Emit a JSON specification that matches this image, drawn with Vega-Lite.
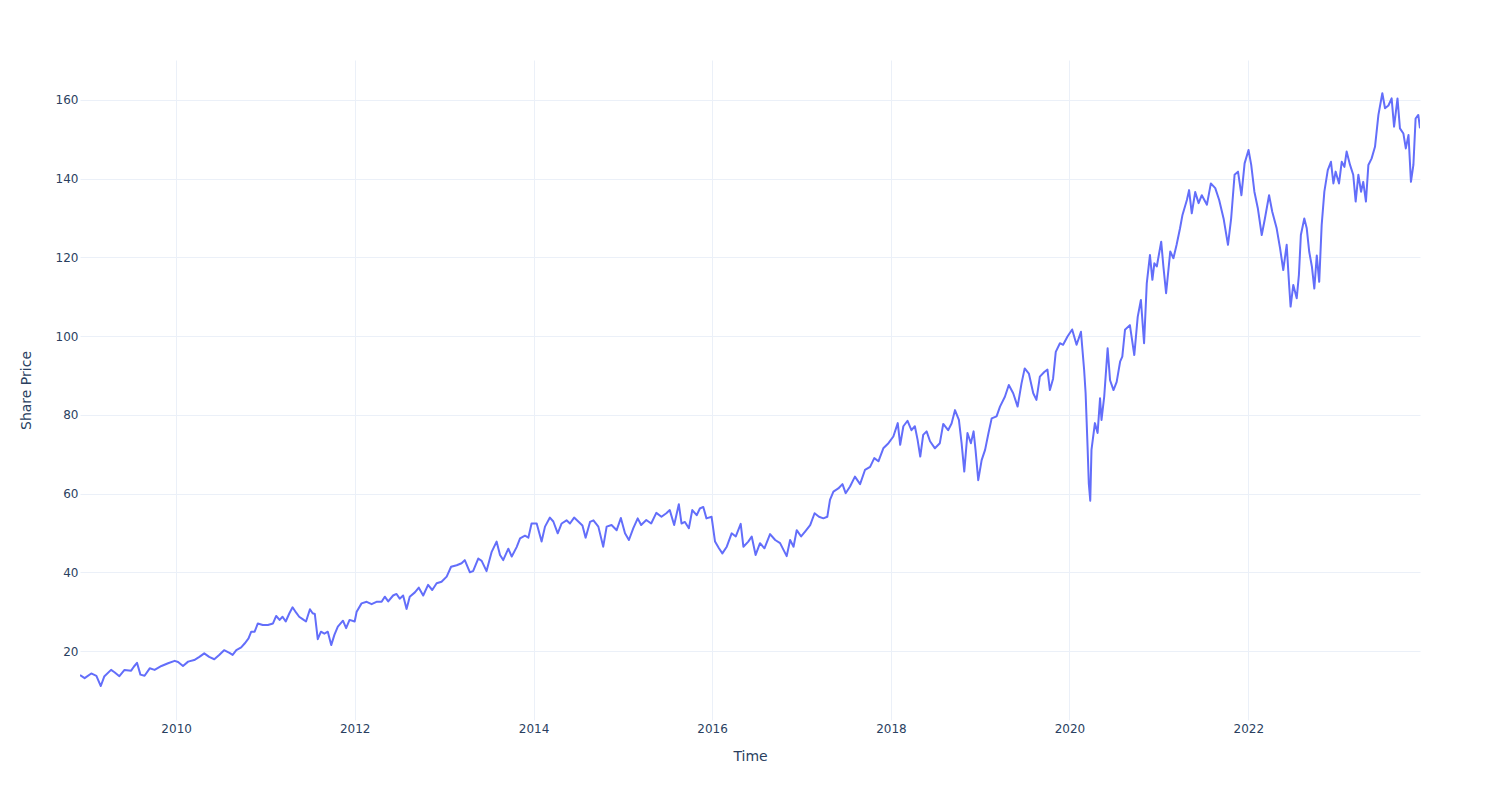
{
  "$schema": "https://vega.github.io/schema/vega-lite/v6.json",
  "width": 1340,
  "height": 660,
  "autosize": {"type": "none"},
  "padding": {"left": 80, "top": 60, "right": 80, "bottom": 80},
  "background": "white",
  "config": {"view": {"stroke": null}, "font": "DejaVu Sans"},
  "data": {"values": [
    {"date": "2008-12-04", "price": 13.9}, {"date": "2008-12-23", "price": 13.1}, {"date": "2009-01-19", "price": 14.3}, {"date": "2009-02-09", "price": 13.7}, {"date": "2009-02-27", "price": 11.1}, {"date": "2009-03-13", "price": 13.5}, {"date": "2009-04-10", "price": 15.2}, {"date": "2009-04-24", "price": 14.6}, {"date": "2009-05-14", "price": 13.6}, {"date": "2009-06-04", "price": 15.2}, {"date": "2009-07-01", "price": 15.0}, {"date": "2009-07-12", "price": 16.0}, {"date": "2009-07-25", "price": 17.0}, {"date": "2009-08-08", "price": 14.0}, {"date": "2009-08-25", "price": 13.7}, {"date": "2009-09-15", "price": 15.6}, {"date": "2009-10-05", "price": 15.2}, {"date": "2009-11-02", "price": 16.2}, {"date": "2009-11-29", "price": 16.9}, {"date": "2009-12-26", "price": 17.5},
    {"date": "2010-01-09", "price": 17.2}, {"date": "2010-01-29", "price": 16.2}, {"date": "2010-02-19", "price": 17.3}, {"date": "2010-03-16", "price": 17.7}, {"date": "2010-04-06", "price": 18.5}, {"date": "2010-04-26", "price": 19.4}, {"date": "2010-05-16", "price": 18.5}, {"date": "2010-06-06", "price": 17.9}, {"date": "2010-06-26", "price": 19.0}, {"date": "2010-07-16", "price": 20.2}, {"date": "2010-08-07", "price": 19.5}, {"date": "2010-08-20", "price": 19.0}, {"date": "2010-09-04", "price": 20.2}, {"date": "2010-09-24", "price": 20.9}, {"date": "2010-10-08", "price": 21.9}, {"date": "2010-10-24", "price": 23.2}, {"date": "2010-11-04", "price": 24.9}, {"date": "2010-11-18", "price": 24.9}, {"date": "2010-12-01", "price": 27.0}, {"date": "2010-12-21", "price": 26.6},
    {"date": "2011-01-11", "price": 26.6}, {"date": "2011-02-01", "price": 27.0}, {"date": "2011-02-14", "price": 28.9}, {"date": "2011-02-28", "price": 27.9}, {"date": "2011-03-12", "price": 28.7}, {"date": "2011-03-25", "price": 27.5}, {"date": "2011-04-09", "price": 29.6}, {"date": "2011-04-22", "price": 31.1}, {"date": "2011-05-06", "price": 29.8}, {"date": "2011-05-19", "price": 28.7}, {"date": "2011-06-02", "price": 28.1}, {"date": "2011-06-16", "price": 27.5}, {"date": "2011-07-02", "price": 30.6}, {"date": "2011-07-13", "price": 29.6}, {"date": "2011-07-22", "price": 29.4}, {"date": "2011-08-03", "price": 23.0}, {"date": "2011-08-16", "price": 24.9}, {"date": "2011-08-30", "price": 24.4}, {"date": "2011-09-13", "price": 24.9}, {"date": "2011-09-27", "price": 21.5}, {"date": "2011-10-10", "price": 24.1}, {"date": "2011-10-24", "price": 26.2}, {"date": "2011-11-14", "price": 27.7}, {"date": "2011-11-27", "price": 25.8}, {"date": "2011-12-11", "price": 27.9}, {"date": "2012-01-01", "price": 27.5},
    {"date": "2012-01-09", "price": 30.0}, {"date": "2012-01-29", "price": 32.1}, {"date": "2012-02-19", "price": 32.5}, {"date": "2012-03-10", "price": 31.9}, {"date": "2012-03-30", "price": 32.5}, {"date": "2012-04-20", "price": 32.5}, {"date": "2012-05-03", "price": 33.8}, {"date": "2012-05-17", "price": 32.6}, {"date": "2012-06-06", "price": 34.1}, {"date": "2012-06-20", "price": 34.5}, {"date": "2012-07-03", "price": 33.3}, {"date": "2012-07-17", "price": 34.1}, {"date": "2012-07-31", "price": 30.7}, {"date": "2012-08-13", "price": 33.8}, {"date": "2012-09-03", "price": 34.9}, {"date": "2012-09-19", "price": 36.1}, {"date": "2012-10-07", "price": 34.1}, {"date": "2012-10-27", "price": 36.8}, {"date": "2012-11-13", "price": 35.5}, {"date": "2012-12-01", "price": 37.2}, {"date": "2012-12-21", "price": 37.6},
    {"date": "2013-01-11", "price": 38.9}, {"date": "2013-01-29", "price": 41.4}, {"date": "2013-02-21", "price": 41.8}, {"date": "2013-03-13", "price": 42.3}, {"date": "2013-03-26", "price": 43.1}, {"date": "2013-04-16", "price": 40.0}, {"date": "2013-04-29", "price": 40.3}, {"date": "2013-05-20", "price": 43.5}, {"date": "2013-06-03", "price": 42.9}, {"date": "2013-06-23", "price": 40.3}, {"date": "2013-07-14", "price": 45.2}, {"date": "2013-08-03", "price": 47.8}, {"date": "2013-08-17", "price": 44.4}, {"date": "2013-08-30", "price": 43.1}, {"date": "2013-09-20", "price": 46.0}, {"date": "2013-10-04", "price": 44.0}, {"date": "2013-10-24", "price": 46.4}, {"date": "2013-11-07", "price": 48.6}, {"date": "2013-11-27", "price": 49.3}, {"date": "2013-12-11", "price": 48.8}, {"date": "2013-12-24", "price": 52.4},
    {"date": "2014-01-14", "price": 52.4}, {"date": "2014-02-03", "price": 47.8}, {"date": "2014-02-17", "price": 51.6}, {"date": "2014-03-09", "price": 53.9}, {"date": "2014-03-23", "price": 52.9}, {"date": "2014-04-10", "price": 49.9}, {"date": "2014-04-26", "price": 52.4}, {"date": "2014-05-16", "price": 53.2}, {"date": "2014-05-30", "price": 52.4}, {"date": "2014-06-16", "price": 53.9}, {"date": "2014-07-03", "price": 52.9}, {"date": "2014-07-20", "price": 51.9}, {"date": "2014-08-02", "price": 48.8}, {"date": "2014-08-20", "price": 52.8}, {"date": "2014-09-03", "price": 53.2}, {"date": "2014-09-23", "price": 51.6}, {"date": "2014-10-13", "price": 46.5}, {"date": "2014-10-27", "price": 51.6}, {"date": "2014-11-16", "price": 52.0}, {"date": "2014-12-07", "price": 50.7}, {"date": "2014-12-24", "price": 53.8},
    {"date": "2015-01-10", "price": 49.9}, {"date": "2015-01-26", "price": 48.2}, {"date": "2015-02-13", "price": 51.2}, {"date": "2015-03-03", "price": 53.7}, {"date": "2015-03-17", "price": 52.0}, {"date": "2015-04-07", "price": 53.3}, {"date": "2015-04-27", "price": 52.4}, {"date": "2015-05-18", "price": 55.1}, {"date": "2015-06-08", "price": 54.1}, {"date": "2015-06-28", "price": 55.0}, {"date": "2015-07-12", "price": 55.8}, {"date": "2015-07-30", "price": 52.0}, {"date": "2015-08-18", "price": 57.3}, {"date": "2015-08-29", "price": 52.4}, {"date": "2015-09-12", "price": 52.8}, {"date": "2015-09-28", "price": 51.2}, {"date": "2015-10-12", "price": 55.8}, {"date": "2015-10-30", "price": 54.5}, {"date": "2015-11-12", "price": 56.2}, {"date": "2015-11-26", "price": 56.6}, {"date": "2015-12-09", "price": 53.7}, {"date": "2015-12-30", "price": 54.1},
    {"date": "2016-01-13", "price": 47.8}, {"date": "2016-01-29", "price": 46.1}, {"date": "2016-02-12", "price": 44.8}, {"date": "2016-03-01", "price": 46.5}, {"date": "2016-03-21", "price": 49.9}, {"date": "2016-04-07", "price": 49.1}, {"date": "2016-04-27", "price": 52.3}, {"date": "2016-05-08", "price": 46.5}, {"date": "2016-05-28", "price": 47.8}, {"date": "2016-06-11", "price": 49.1}, {"date": "2016-06-27", "price": 44.4}, {"date": "2016-07-15", "price": 47.4}, {"date": "2016-08-02", "price": 46.1}, {"date": "2016-08-25", "price": 49.7}, {"date": "2016-09-15", "price": 48.2}, {"date": "2016-10-05", "price": 47.4}, {"date": "2016-10-19", "price": 45.7}, {"date": "2016-11-01", "price": 44.1}, {"date": "2016-11-15", "price": 48.2}, {"date": "2016-11-29", "price": 46.5}, {"date": "2016-12-12", "price": 50.7}, {"date": "2016-12-30", "price": 49.1},
    {"date": "2017-01-16", "price": 50.4}, {"date": "2017-02-05", "price": 52.0}, {"date": "2017-02-23", "price": 55.0}, {"date": "2017-03-13", "price": 54.1}, {"date": "2017-03-31", "price": 53.7}, {"date": "2017-04-16", "price": 54.1}, {"date": "2017-04-27", "price": 58.4}, {"date": "2017-05-11", "price": 60.5}, {"date": "2017-05-31", "price": 61.3}, {"date": "2017-06-17", "price": 62.4}, {"date": "2017-06-30", "price": 60.1}, {"date": "2017-07-18", "price": 61.8}, {"date": "2017-08-07", "price": 64.3}, {"date": "2017-08-28", "price": 62.4}, {"date": "2017-09-17", "price": 66.0}, {"date": "2017-10-08", "price": 66.8}, {"date": "2017-10-25", "price": 69.0}, {"date": "2017-11-11", "price": 68.2}, {"date": "2017-12-01", "price": 71.5}, {"date": "2017-12-22", "price": 72.8},
    {"date": "2018-01-11", "price": 74.5}, {"date": "2018-01-29", "price": 77.9}, {"date": "2018-02-08", "price": 72.4}, {"date": "2018-02-21", "price": 77.1}, {"date": "2018-03-10", "price": 78.5}, {"date": "2018-03-26", "price": 76.1}, {"date": "2018-04-09", "price": 77.1}, {"date": "2018-04-20", "price": 73.7}, {"date": "2018-05-01", "price": 69.4}, {"date": "2018-05-13", "price": 74.9}, {"date": "2018-05-27", "price": 75.8}, {"date": "2018-06-10", "price": 73.3}, {"date": "2018-06-30", "price": 71.5}, {"date": "2018-07-20", "price": 72.8}, {"date": "2018-08-03", "price": 77.7}, {"date": "2018-08-23", "price": 76.1}, {"date": "2018-09-06", "price": 77.8}, {"date": "2018-09-20", "price": 81.2}, {"date": "2018-10-06", "price": 78.7}, {"date": "2018-10-17", "price": 72.8}, {"date": "2018-10-28", "price": 65.6}, {"date": "2018-11-10", "price": 75.4}, {"date": "2018-11-24", "price": 72.8}, {"date": "2018-12-05", "price": 75.8}, {"date": "2018-12-13", "price": 71.1}, {"date": "2018-12-24", "price": 63.4},
    {"date": "2019-01-07", "price": 68.5}, {"date": "2019-01-21", "price": 71.1}, {"date": "2019-02-04", "price": 75.4}, {"date": "2019-02-17", "price": 79.1}, {"date": "2019-03-09", "price": 79.6}, {"date": "2019-03-23", "price": 82.1}, {"date": "2019-04-12", "price": 84.6}, {"date": "2019-04-28", "price": 87.6}, {"date": "2019-05-16", "price": 85.5}, {"date": "2019-06-03", "price": 82.1}, {"date": "2019-06-19", "price": 88.0}, {"date": "2019-07-02", "price": 91.8}, {"date": "2019-07-19", "price": 90.5}, {"date": "2019-08-06", "price": 85.5}, {"date": "2019-08-19", "price": 83.8}, {"date": "2019-09-02", "price": 89.7}, {"date": "2019-09-20", "price": 90.9}, {"date": "2019-10-03", "price": 91.5}, {"date": "2019-10-13", "price": 86.3}, {"date": "2019-10-26", "price": 89.2}, {"date": "2019-11-06", "price": 96.0}, {"date": "2019-11-23", "price": 98.2}, {"date": "2019-12-06", "price": 97.8}, {"date": "2019-12-24", "price": 99.9},
    {"date": "2020-01-12", "price": 101.7}, {"date": "2020-01-30", "price": 97.8}, {"date": "2020-02-17", "price": 101.1}, {"date": "2020-03-01", "price": 91.4}, {"date": "2020-03-07", "price": 85.5}, {"date": "2020-03-15", "price": 71.9}, {"date": "2020-03-20", "price": 62.6}, {"date": "2020-03-26", "price": 58.2}, {"date": "2020-03-31", "price": 71.1}, {"date": "2020-04-14", "price": 77.9}, {"date": "2020-04-25", "price": 75.4}, {"date": "2020-05-05", "price": 84.2}, {"date": "2020-05-11", "price": 78.7}, {"date": "2020-05-22", "price": 84.6}, {"date": "2020-06-05", "price": 96.9}, {"date": "2020-06-15", "price": 88.8}, {"date": "2020-06-29", "price": 86.3}, {"date": "2020-07-12", "price": 88.4}, {"date": "2020-07-26", "price": 93.5}, {"date": "2020-08-04", "price": 94.8}, {"date": "2020-08-15", "price": 101.6}, {"date": "2020-09-04", "price": 102.8}, {"date": "2020-09-22", "price": 95.2}, {"date": "2020-10-06", "price": 104.9}, {"date": "2020-10-19", "price": 109.2}, {"date": "2020-11-01", "price": 98.2}, {"date": "2020-11-12", "price": 113.4}, {"date": "2020-11-25", "price": 120.6}, {"date": "2020-12-05", "price": 114.3}, {"date": "2020-12-13", "price": 118.5}, {"date": "2020-12-23", "price": 117.7},
    {"date": "2021-01-10", "price": 124.0}, {"date": "2021-01-19", "price": 117.7}, {"date": "2021-01-30", "price": 110.9}, {"date": "2021-02-16", "price": 121.5}, {"date": "2021-03-01", "price": 119.8}, {"date": "2021-03-14", "price": 123.2}, {"date": "2021-03-28", "price": 127.4}, {"date": "2021-04-07", "price": 130.8}, {"date": "2021-04-25", "price": 134.6}, {"date": "2021-05-04", "price": 137.1}, {"date": "2021-05-15", "price": 131.2}, {"date": "2021-05-29", "price": 136.6}, {"date": "2021-06-12", "price": 133.8}, {"date": "2021-06-25", "price": 135.8}, {"date": "2021-07-16", "price": 133.4}, {"date": "2021-08-01", "price": 138.8}, {"date": "2021-08-19", "price": 137.6}, {"date": "2021-09-04", "price": 134.6}, {"date": "2021-09-22", "price": 129.9}, {"date": "2021-10-10", "price": 123.2}, {"date": "2021-10-23", "price": 129.9}, {"date": "2021-11-06", "price": 141.0}, {"date": "2021-11-20", "price": 141.8}, {"date": "2021-12-04", "price": 135.8}, {"date": "2021-12-17", "price": 143.9},
    {"date": "2022-01-02", "price": 147.3}, {"date": "2022-01-13", "price": 143.5}, {"date": "2022-01-26", "price": 136.7}, {"date": "2022-02-09", "price": 132.5}, {"date": "2022-02-25", "price": 125.7}, {"date": "2022-03-10", "price": 129.9}, {"date": "2022-03-27", "price": 135.8}, {"date": "2022-04-09", "price": 131.6}, {"date": "2022-04-27", "price": 127.4}, {"date": "2022-05-11", "price": 122.3}, {"date": "2022-05-24", "price": 116.8}, {"date": "2022-06-07", "price": 123.2}, {"date": "2022-06-17", "price": 113.0}, {"date": "2022-06-23", "price": 107.5}, {"date": "2022-07-04", "price": 113.0}, {"date": "2022-07-18", "price": 109.6}, {"date": "2022-07-27", "price": 115.6}, {"date": "2022-08-04", "price": 125.7}, {"date": "2022-08-18", "price": 129.9}, {"date": "2022-08-28", "price": 127.4}, {"date": "2022-09-07", "price": 121.5}, {"date": "2022-09-18", "price": 117.7}, {"date": "2022-09-28", "price": 112.1}, {"date": "2022-10-08", "price": 120.5}, {"date": "2022-10-18", "price": 113.8}, {"date": "2022-10-28", "price": 128.2}, {"date": "2022-11-08", "price": 136.7}, {"date": "2022-11-22", "price": 142.2}, {"date": "2022-12-05", "price": 144.3}, {"date": "2022-12-15", "price": 138.8}, {"date": "2022-12-24", "price": 141.8},
    {"date": "2023-01-07", "price": 138.8}, {"date": "2023-01-18", "price": 144.3}, {"date": "2023-01-29", "price": 143.0}, {"date": "2023-02-07", "price": 146.9}, {"date": "2023-02-21", "price": 143.5}, {"date": "2023-03-06", "price": 141.0}, {"date": "2023-03-16", "price": 134.2}, {"date": "2023-03-27", "price": 141.0}, {"date": "2023-04-07", "price": 136.7}, {"date": "2023-04-16", "price": 139.2}, {"date": "2023-04-27", "price": 134.2}, {"date": "2023-05-07", "price": 143.5}, {"date": "2023-05-20", "price": 145.1}, {"date": "2023-06-03", "price": 148.1}, {"date": "2023-06-17", "price": 156.2}, {"date": "2023-07-03", "price": 161.7}, {"date": "2023-07-14", "price": 157.9}, {"date": "2023-07-28", "price": 158.6}, {"date": "2023-08-10", "price": 160.4}, {"date": "2023-08-20", "price": 153.2}, {"date": "2023-09-03", "price": 160.4}, {"date": "2023-09-13", "price": 152.8}, {"date": "2023-09-27", "price": 151.5}, {"date": "2023-10-07", "price": 147.7}, {"date": "2023-10-18", "price": 151.1}, {"date": "2023-10-28", "price": 139.2}, {"date": "2023-11-07", "price": 143.5}, {"date": "2023-11-16", "price": 155.3}, {"date": "2023-11-27", "price": 156.2}, {"date": "2023-12-04", "price": 152.8}
  ]},
  "mark": {"type": "line", "color": "#636efa", "strokeWidth": 2, "strokeJoin": "round", "clip": true},
  "encoding": {
    "x": {
      "field": "date", "type": "temporal", "title": "Time",
      "scale": {"domain": ["2008-12-04", "2023-12-04"], "nice": false},
      "axis": {
        "format": "%Y", "tickCount": {"interval": "year", "step": 2},
        "grid": true, "gridColor": "#EBF0F8", "gridWidth": 1,
        "domain": false, "ticks": false, "tickSize": 0, "labelPadding": 3,
        "labelFontSize": 12, "labelColor": "#2a3f5f", "labelFont": "DejaVu Sans", "labelFlush": false,
        "titleFont": "DejaVu Sans", "titleFontSize": 14, "titleColor": "#2a3f5f", "titleFontWeight": "normal",
        "titleY": 36, "titleBaseline": "middle"
      }
    },
    "y": {
      "field": "price", "type": "quantitative", "title": "Share Price",
      "scale": {"domain": [2.47, 170.16], "nice": false, "zero": false},
      "axis": {
        "values": [20, 40, 60, 80, 100, 120, 140, 160],
        "grid": true, "gridColor": "#EBF0F8", "gridWidth": 1,
        "domain": false, "ticks": false, "tickSize": 0, "labelPadding": 2,
        "labelFontSize": 12, "labelColor": "#2a3f5f", "labelFont": "DejaVu Sans",
        "titleFont": "DejaVu Sans", "titleFontSize": 14, "titleColor": "#2a3f5f", "titleFontWeight": "normal",
        "titleX": -54, "titleY": 330, "titleAngle": -90, "titleBaseline": "middle", "titleAlign": "center"
      }
    }
  }
}
